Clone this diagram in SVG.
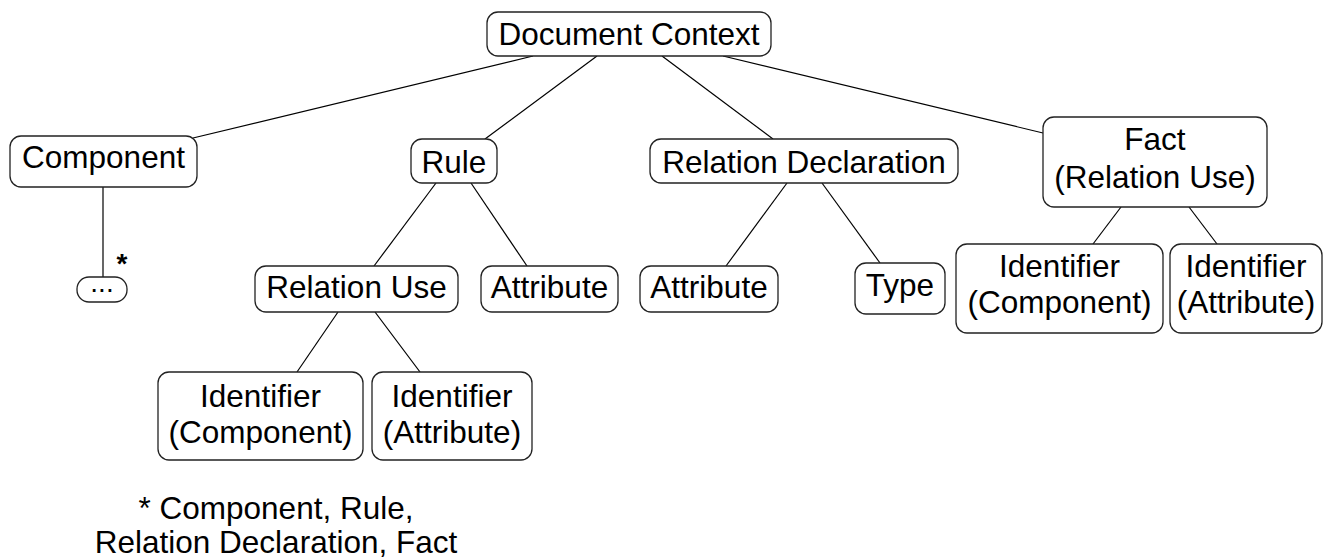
<svg xmlns="http://www.w3.org/2000/svg" width="1324" height="559" viewBox="0 0 1324 559">
<style>
  rect.n { fill: #fff; stroke: #222; stroke-width: 1.3; }
  text { font-family: "Liberation Sans", Arial, sans-serif; font-size: 31.5px; fill: #000; text-anchor: middle; }
  #connectors line { stroke: #000; stroke-width: 1.2; }
</style>
<rect width="1324" height="559" fill="#fff"/>
<g id="connectors">
  <line x1="533" y1="56" x2="193" y2="138"/>
  <line x1="597" y1="56" x2="485" y2="139"/>
  <line x1="662" y1="56" x2="773" y2="139"/>
  <line x1="723" y1="56" x2="1043" y2="133"/>
  <line x1="103" y1="187" x2="103" y2="277"/>
  <line x1="436" y1="183" x2="374" y2="266"/>
  <line x1="471" y1="183" x2="527" y2="266"/>
  <line x1="787" y1="183" x2="726" y2="266"/>
  <line x1="822" y1="183" x2="880" y2="263"/>
  <line x1="338" y1="312" x2="297" y2="372"/>
  <line x1="375" y1="312" x2="420" y2="372"/>
  <line x1="1121" y1="207" x2="1093" y2="244"/>
  <line x1="1189" y1="207" x2="1217" y2="244"/>
</g>
<g id="doc"><rect class="n" x="487" y="12" width="284" height="44" rx="11"/><text x="629" y="45">Document Context</text></g>
<g id="component"><rect class="n" x="10" y="136" width="187" height="51" rx="11"/><text x="103.5" y="168">Component</text></g>
<g id="rule"><rect class="n" x="411" y="139" width="86" height="44" rx="11"/><text x="454" y="173">Rule</text></g>
<g id="reldecl"><rect class="n" x="650" y="139" width="308" height="44" rx="11"/><text x="804" y="173">Relation Declaration</text></g>
<g id="fact"><rect class="n" x="1043" y="117" width="224" height="90" rx="11"/><text x="1155" y="150">Fact</text><text x="1155" y="188">(Relation Use)</text></g>
<g id="more"><rect class="n" x="77" y="277" width="50" height="25" rx="12"/><text x="102" y="292" style="font-size:28px">...</text><text x="122" y="273" style="font-size:28px;font-weight:bold">*</text></g>
<g id="reluse"><rect class="n" x="255" y="266" width="203" height="46" rx="11"/><text x="356.5" y="298">Relation Use</text></g>
<g id="attr1"><rect class="n" x="481" y="266" width="137" height="46" rx="11"/><text x="549.5" y="298">Attribute</text></g>
<g id="attr2"><rect class="n" x="640" y="266" width="138" height="46" rx="11"/><text x="709" y="298">Attribute</text></g>
<g id="type"><rect class="n" x="855" y="263" width="90" height="51" rx="11"/><text x="900" y="296">Type</text></g>
<g id="id1"><rect class="n" x="158" y="372" width="205" height="88" rx="11"/><text x="260.5" y="407">Identifier</text><text x="260.5" y="443">(Component)</text></g>
<g id="id2"><rect class="n" x="372" y="372" width="160" height="88" rx="11"/><text x="452" y="407">Identifier</text><text x="452" y="443">(Attribute)</text></g>
<g id="id3"><rect class="n" x="956" y="244" width="207" height="89" rx="11"/><text x="1059.5" y="277">Identifier</text><text x="1059.5" y="313">(Component)</text></g>
<g id="id4"><rect class="n" x="1170" y="244" width="152" height="89" rx="11"/><text x="1246" y="277">Identifier</text><text x="1246" y="313">(Attribute)</text></g>
<g id="footnote"><text x="276" y="519">* Component, Rule,</text><text x="276" y="553">Relation Declaration, Fact</text></g>
</svg>
